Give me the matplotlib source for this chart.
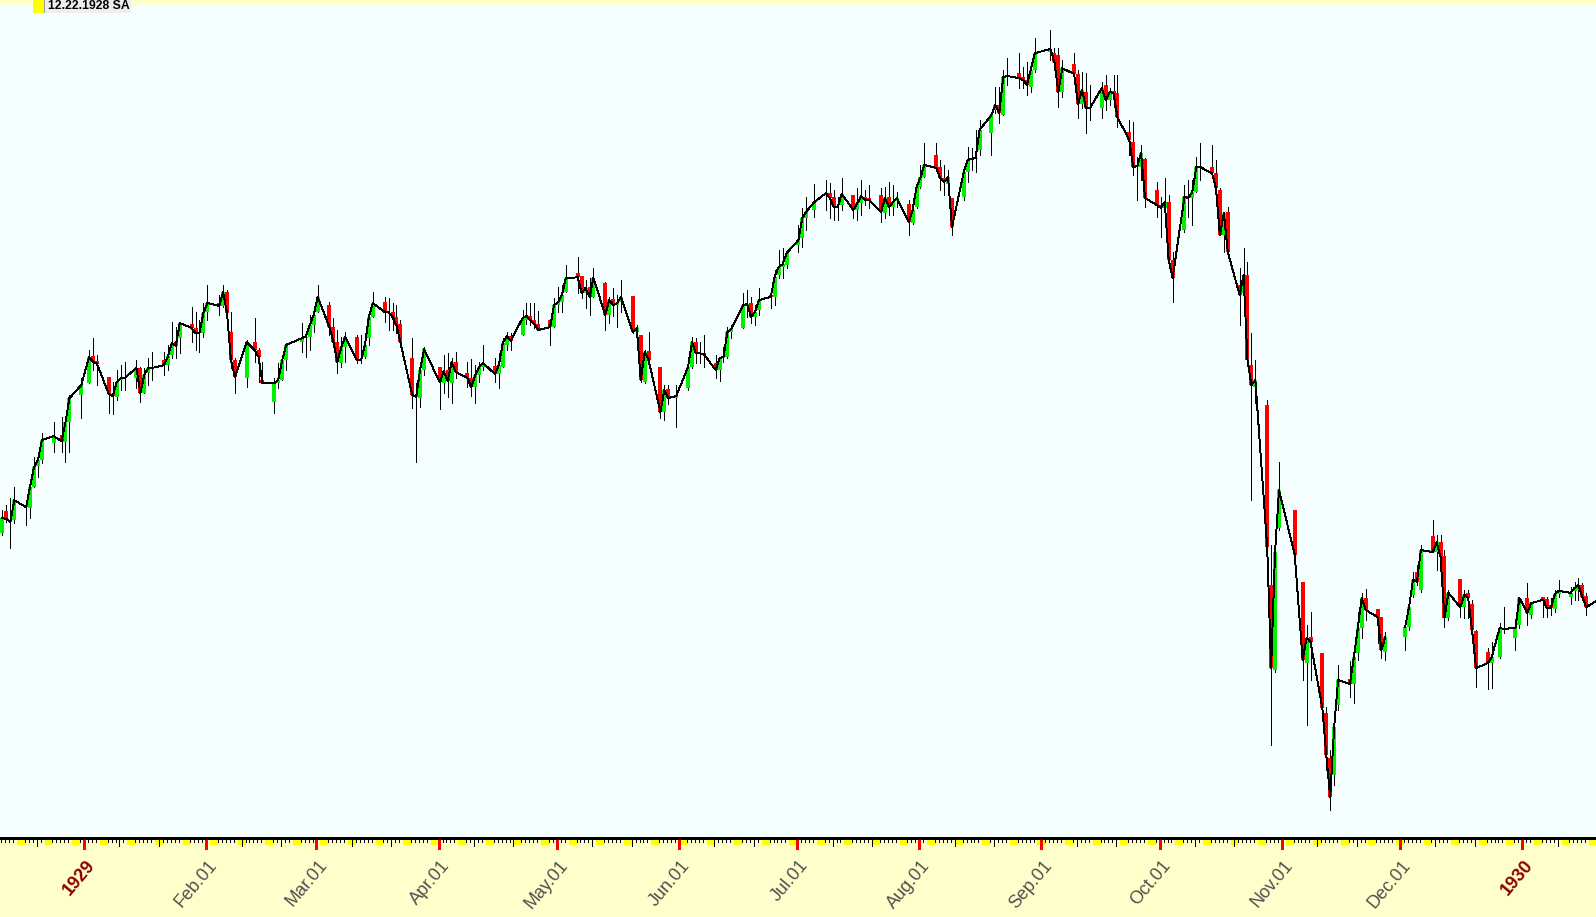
import matplotlib
matplotlib.use("Agg")
import matplotlib.pyplot as plt
import matplotlib.dates as mdates
from matplotlib.patches import Rectangle
import numpy as np
import pandas as pd

# ---------------- data (daily bars, Dow-like index, Dec 1928 - Jan 1930) ----------------
dates = (
    "1928-12-11 1928-12-12 1928-12-13 1928-12-14 1928-12-17 1928-12-18 1928-12-19 1928-12-20 1928-12-21 1928-12-24 1928-12-26 1928-12-27 1928-12-28 1928-12-31 "
    "1929-01-02 1929-01-03 1929-01-04 1929-01-07 1929-01-08 1929-01-09 1929-01-10 1929-01-11 1929-01-14 1929-01-15 1929-01-16 1929-01-17 1929-01-18 1929-01-21 1929-01-22 1929-01-23 1929-01-24 1929-01-25 1929-01-28 1929-01-29 1929-01-30 1929-01-31 "
    "1929-02-01 1929-02-04 1929-02-05 1929-02-06 1929-02-07 1929-02-08 1929-02-11 1929-02-13 1929-02-14 1929-02-15 1929-02-18 1929-02-19 1929-02-20 1929-02-21 1929-02-25 1929-02-26 1929-02-27 1929-02-28 "
    "1929-03-01 1929-03-04 1929-03-05 1929-03-06 1929-03-07 1929-03-08 1929-03-11 1929-03-12 1929-03-13 1929-03-14 1929-03-15 1929-03-18 1929-03-19 1929-03-20 1929-03-21 1929-03-22 1929-03-25 1929-03-26 1929-03-27 1929-03-28 "
    "1929-04-01 1929-04-02 1929-04-03 1929-04-04 1929-04-05 1929-04-08 1929-04-09 1929-04-10 1929-04-11 1929-04-12 1929-04-15 1929-04-16 1929-04-17 1929-04-18 1929-04-19 1929-04-22 1929-04-23 1929-04-24 1929-04-25 1929-04-26 1929-04-29 1929-04-30 "
    "1929-05-01 1929-05-02 1929-05-03 1929-05-06 1929-05-07 1929-05-08 1929-05-09 1929-05-10 1929-05-13 1929-05-14 1929-05-15 1929-05-16 1929-05-17 1929-05-20 1929-05-21 1929-05-22 1929-05-23 1929-05-24 1929-05-27 1929-05-28 1929-05-29 1929-05-31 "
    "1929-06-03 1929-06-04 1929-06-05 1929-06-06 1929-06-07 1929-06-10 1929-06-11 1929-06-12 1929-06-13 1929-06-14 1929-06-17 1929-06-18 1929-06-19 1929-06-20 1929-06-21 1929-06-24 1929-06-25 1929-06-26 1929-06-27 1929-06-28 "
    "1929-07-01 1929-07-02 1929-07-03 1929-07-05 1929-07-08 1929-07-09 1929-07-10 1929-07-11 1929-07-12 1929-07-15 1929-07-16 1929-07-17 1929-07-18 1929-07-19 1929-07-22 1929-07-23 1929-07-24 1929-07-25 1929-07-26 1929-07-29 1929-07-30 1929-07-31 "
    "1929-08-01 1929-08-02 1929-08-05 1929-08-06 1929-08-07 1929-08-08 1929-08-09 1929-08-12 1929-08-13 1929-08-14 1929-08-15 1929-08-16 1929-08-19 1929-08-20 1929-08-21 1929-08-22 1929-08-23 1929-08-26 1929-08-27 1929-08-28 1929-08-29 1929-08-30 "
    "1929-09-03 1929-09-04 1929-09-05 1929-09-06 1929-09-09 1929-09-10 1929-09-11 1929-09-12 1929-09-13 1929-09-16 1929-09-17 1929-09-18 1929-09-19 1929-09-20 1929-09-23 1929-09-24 1929-09-25 1929-09-26 1929-09-27 1929-09-30 "
    "1929-10-01 1929-10-02 1929-10-03 1929-10-04 1929-10-07 1929-10-08 1929-10-09 1929-10-10 1929-10-11 1929-10-14 1929-10-15 1929-10-16 1929-10-17 1929-10-18 1929-10-21 1929-10-22 1929-10-23 1929-10-24 1929-10-25 1929-10-28 1929-10-29 1929-10-30 1929-10-31 "
    "1929-11-04 1929-11-06 1929-11-07 1929-11-08 1929-11-11 1929-11-12 1929-11-13 1929-11-14 1929-11-15 1929-11-18 1929-11-19 1929-11-20 1929-11-21 1929-11-22 1929-11-25 1929-11-26 1929-11-27 "
    "1929-12-02 1929-12-03 1929-12-04 1929-12-05 1929-12-06 1929-12-09 1929-12-10 1929-12-11 1929-12-12 1929-12-13 1929-12-16 1929-12-17 1929-12-18 1929-12-19 1929-12-20 1929-12-23 1929-12-24 1929-12-26 1929-12-27 1929-12-30 1929-12-31 "
    "1930-01-02 1930-01-03 1930-01-06 1930-01-07 1930-01-08 1930-01-09 1930-01-10 1930-01-13 1930-01-14 1930-01-15 1930-01-16 1930-01-17 1930-01-20"
).split()

opens = [
    262.9, 268.2, 266.0, 266.0, 269.7, 269.0, 274.1, 279.3, 280.7, 284.9, 286.9, 285.2, 290.0, 296.7,
    299.6, 306.2, 305.0, 301.1, 296.9, 296.2, 300.3, 300.8, 300.8, 303.3, 297.1, 302.1, 303.3, 305.2, 304.0, 306.5, 309.6, 310.6, 314.0, 313.1, 311.8, 311.8,
    317.0, 319.2, 318.5, 321.9, 312.1, 305.2, 300.8, 309.6, 307.7, 300.3, 294.9, 299.6, 300.3, 305.2, 309.6, 310.6, 310.9, 313.8,
    317.0, 318.7, 313.3, 309.6, 304.5, 308.4, 310.9, 305.2, 306.0, 310.6, 315.8, 319.4, 317.0, 317.0, 315.8, 314.0, 305.7, 296.7, 295.9, 302.8,
    303.5, 299.6, 302.8, 299.6, 304.7, 302.1, 300.8, 298.6, 301.6, 303.5, 303.8, 301.8, 303.5, 308.9, 311.1, 311.4, 315.0, 316.0, 315.0, 314.0, 315.0, 313.3,
    318.7, 319.4, 321.9, 326.5, 325.8, 321.6, 323.1, 320.7, 324.1, 316.3, 320.2, 318.7, 319.4, 320.9, 312.1, 311.4, 299.8, 307.4, 303.5, 292.5, 298.1, 295.9,
    298.4, 303.5, 309.6, 306.9, 306.9, 304.5, 302.8, 305.7, 306.0, 312.1, 313.1, 318.7, 319.2, 315.8, 317.5, 321.2, 320.7, 326.0, 328.0, 328.5,
    333.4, 335.1, 340.0, 342.0, 345.6, 346.1, 345.2, 342.7, 343.2, 345.6, 342.0, 343.7, 345.2, 344.9, 345.6, 341.2, 345.2, 342.7, 344.2, 343.4, 338.8, 342.7,
    347.6, 350.0, 355.4, 352.5, 349.8, 348.3, 344.9, 345.2, 351.3, 354.2, 354.5, 356.7, 360.8, 366.5, 367.7, 365.2, 374.5, 375.5, 374.5, 373.8, 372.1, 376.3,
    380.7, 380.4, 379.9, 370.9, 377.7, 375.3, 367.9, 370.9, 366.9, 366.9, 372.6, 368.9, 371.1, 370.6, 361.1, 358.6, 352.5, 352.5, 354.5, 346.9,
    343.2, 342.5, 343.9, 329.7, 337.1, 345.4, 344.9, 346.4, 352.5, 352.5, 351.0, 346.9, 335.8, 341.5, 323.6, 321.6, 326.0, 304.0, 298.6, 294.2, 250.1, 229.3, 264.1,
    268.5, 250.9, 231.0, 237.4, 233.5, 218.8, 207.8, 203.6, 220.7, 227.1, 225.9, 233.5, 239.6, 247.0, 244.3, 242.3, 233.7,
    237.4, 239.8, 247.7, 253.3, 248.9, 262.1, 258.2, 260.6, 257.2, 242.1, 251.6, 244.7, 248.2, 245.5, 238.9, 233.7, 231.0, 232.5, 239.4, 237.2, 240.3,
    247.0, 242.8, 247.2, 246.7, 245.2, 244.3, 247.9, 247.2, 248.7, 248.9, 250.1, 247.4, 245.5,
]

highs = [
    268.5, 269.7, 271.4, 274.1, 270.9, 274.6, 281.5, 282.0, 287.4, 290.0, 291.3, 291.3, 296.7, 300.8,
    307.7, 310.6, 306.5, 301.1, 299.8, 302.8, 304.0, 304.7, 305.2, 303.5, 303.3, 305.7, 307.2, 307.2, 308.9, 314.5, 313.3, 314.5, 318.2, 317.0, 315.0, 319.2,
    323.6, 321.2, 323.6, 322.4, 317.0, 305.7, 310.1, 315.5, 308.2, 304.7, 300.8, 304.5, 306.0, 309.4, 314.3, 312.1, 316.3, 318.2,
    323.6, 319.4, 315.5, 312.6, 310.9, 312.1, 311.4, 311.4, 311.4, 315.8, 321.9, 320.7, 320.4, 319.2, 318.7, 315.0, 310.6, 299.6, 302.8, 308.4,
    303.5, 306.5, 307.0, 305.7, 307.2, 304.7, 305.5, 304.0, 304.7, 308.9, 305.7, 306.9, 310.6, 312.1, 311.8, 317.5, 319.2, 319.2, 319.2, 317.2, 315.0, 320.4,
    323.1, 323.6, 328.5, 330.5, 325.8, 324.8, 325.3, 327.8, 324.3, 320.7, 322.9, 321.2, 324.8, 320.9, 313.8, 311.4, 307.7, 312.1, 303.5, 299.1, 299.1, 299.1,
    303.5, 310.9, 310.6, 309.6, 311.4, 306.5, 306.0, 308.4, 313.3, 313.8, 321.6, 322.4, 320.7, 318.7, 322.9, 322.4, 327.3, 332.2, 332.7, 332.2,
    338.3, 342.5, 345.2, 348.3, 349.3, 348.6, 346.9, 345.2, 349.8, 345.6, 347.4, 349.3, 346.9, 348.1, 347.4, 347.6, 348.8, 348.1, 346.4, 344.4, 343.9, 348.1,
    353.0, 358.4, 358.4, 354.2, 353.0, 351.8, 344.9, 351.8, 357.4, 357.2, 361.6, 364.0, 365.7, 372.1, 372.1, 376.3, 379.2, 380.4, 377.0, 378.2, 377.5, 384.1,
    386.0, 381.6, 381.6, 378.7, 380.4, 376.3, 375.8, 375.5, 372.6, 373.3, 375.0, 371.8, 375.0, 375.0, 364.0, 363.5, 354.9, 357.9, 354.7, 348.8,
    345.2, 349.8, 345.6, 331.7, 348.1, 349.3, 349.3, 354.9, 358.4, 357.9, 354.2, 347.4, 341.5, 342.7, 327.8, 332.7, 329.2, 311.8, 305.2, 295.4, 259.9, 259.9, 280.3,
    268.5, 250.9, 240.3, 243.5, 233.5, 220.3, 209.7, 218.3, 230.5, 231.5, 233.0, 243.5, 248.2, 249.1, 244.3, 242.3, 238.6,
    239.8, 246.9, 253.3, 255.0, 259.9, 266.0, 262.4, 262.4, 258.7, 248.9, 251.6, 248.9, 248.9, 246.5, 239.1, 234.7, 236.2, 240.8, 244.7, 239.6, 247.2,
    250.6, 245.9, 247.2, 247.2, 246.9, 248.9, 251.4, 249.6, 250.9, 251.8, 250.6, 248.2, 247.7,
]

lows = [
    262.4, 265.5, 259.2, 265.3, 264.8, 266.5, 274.1, 276.6, 280.0, 282.7, 282.7, 280.3, 282.7, 291.0,
    299.6, 302.8, 299.1, 292.3, 292.0, 295.4, 297.9, 297.9, 298.4, 294.9, 297.1, 299.1, 300.3, 301.6, 302.8, 305.7, 305.7, 306.9, 309.6, 307.7, 307.2, 310.9,
    315.0, 316.3, 318.2, 315.0, 303.3, 297.1, 298.6, 304.7, 299.8, 299.6, 292.3, 298.4, 300.3, 302.8, 307.2, 306.0, 307.7, 312.1,
    317.0, 311.4, 309.6, 302.1, 303.5, 304.7, 304.5, 304.5, 305.7, 308.9, 315.8, 314.5, 312.6, 312.6, 311.8, 308.9, 293.5, 280.3, 293.7, 301.6,
    293.2, 297.1, 296.2, 294.7, 300.8, 298.6, 296.4, 294.7, 299.8, 302.8, 299.8, 298.4, 303.5, 307.7, 307.7, 311.4, 314.0, 313.8, 313.1, 312.6, 308.9, 313.3,
    317.0, 317.0, 321.9, 321.6, 320.4, 318.0, 316.3, 320.7, 312.6, 314.3, 316.0, 313.3, 317.0, 311.8, 308.4, 299.8, 299.6, 303.5, 291.0, 290.5, 294.5, 288.8,
    297.9, 303.3, 304.5, 304.5, 303.5, 300.8, 300.1, 304.7, 305.7, 310.6, 313.1, 315.8, 314.3, 313.8, 316.3, 318.0, 318.7, 325.3, 325.3, 327.8,
    331.7, 332.9, 337.1, 340.3, 342.0, 340.0, 339.5, 339.5, 342.0, 340.0, 339.5, 340.7, 343.2, 342.5, 339.0, 340.0, 340.7, 340.7, 342.7, 335.8, 338.5, 342.5,
    347.4, 350.0, 351.8, 346.9, 345.6, 346.4, 335.8, 344.4, 348.8, 351.8, 351.3, 355.4, 355.4, 365.7, 363.3, 365.2, 372.6, 371.8, 371.8, 370.1, 370.9, 375.8,
    378.7, 376.3, 367.2, 369.6, 373.3, 364.5, 366.9, 360.8, 364.0, 364.5, 366.5, 367.7, 367.2, 362.3, 355.4, 350.5, 344.4, 349.3, 342.7, 340.3,
    335.4, 338.8, 327.8, 319.4, 336.6, 340.3, 338.3, 346.4, 349.3, 350.1, 345.6, 335.8, 331.7, 331.4, 313.8, 321.6, 304.7, 270.9, 294.7, 258.7, 210.9, 228.8, 263.6,
    256.3, 226.9, 215.8, 226.9, 218.3, 204.8, 195.0, 201.1, 219.5, 222.7, 221.2, 231.8, 237.2, 241.6, 235.9, 232.3, 231.8,
    234.2, 239.1, 247.2, 250.1, 248.4, 258.2, 253.8, 253.8, 239.8, 241.6, 242.3, 242.1, 242.1, 239.1, 225.1, 224.7, 224.9, 232.3, 238.4, 234.2, 239.6,
    240.3, 242.1, 242.3, 242.3, 242.8, 243.5, 247.2, 245.5, 246.5, 246.5, 246.5, 242.8, 244.5,
]

closes = [
    266.5, 266.3, 265.6, 270.9, 269.2, 274.1, 279.0, 280.7, 285.6, 286.6, 285.4, 290.0, 295.9, 299.1,
    306.0, 304.8, 304.3, 296.9, 296.4, 299.8, 300.8, 300.8, 303.3, 297.1, 301.6, 303.3, 303.3, 304.0, 306.2, 309.4, 308.7, 314.3, 313.1, 311.8, 311.8, 316.7,
    319.2, 318.5, 321.9, 316.7, 305.2, 301.1, 309.6, 307.7, 306.0, 299.6, 299.6, 300.3, 305.2, 308.9, 310.6, 310.9, 313.8, 316.3,
    320.7, 313.3, 309.6, 304.7, 308.4, 310.9, 305.2, 305.2, 308.9, 315.8, 319.2, 317.0, 317.0, 315.8, 313.8, 309.6, 296.7, 296.2, 302.8, 307.9,
    299.8, 302.5, 300.1, 304.7, 302.3, 300.8, 298.6, 301.6, 303.5, 304.5, 301.8, 304.0, 309.4, 311.1, 309.9, 315.5, 316.0, 315.0, 314.0, 312.6, 313.3, 318.7,
    319.4, 321.2, 325.3, 325.5, 321.6, 322.9, 320.7, 325.3, 316.3, 319.9, 318.7, 319.2, 320.7, 312.1, 313.1, 300.3, 307.2, 305.2, 292.5, 297.9, 295.9, 296.4,
    303.5, 309.6, 306.9, 306.9, 306.7, 302.8, 305.7, 306.0, 312.1, 312.8, 318.7, 318.9, 315.8, 317.0, 319.9, 320.7, 325.6, 328.0, 328.7, 331.4,
    334.6, 340.0, 341.5, 343.9, 346.1, 344.9, 342.7, 342.7, 345.9, 342.0, 343.7, 345.4, 344.4, 344.4, 341.5, 344.9, 342.7, 343.9, 344.9, 339.0, 342.0, 347.6,
    350.0, 353.0, 352.3, 349.8, 348.8, 350.0, 337.8, 351.3, 354.2, 354.5, 354.7, 361.6, 365.2, 367.7, 365.7, 374.5, 374.8, 374.3, 373.8, 372.6, 376.3, 380.4,
    381.4, 378.2, 370.9, 376.7, 375.3, 367.9, 371.4, 366.9, 366.9, 371.8, 368.9, 370.9, 370.6, 364.7, 359.1, 352.5, 352.7, 355.9, 344.9, 343.2,
    342.5, 343.9, 329.7, 325.3, 345.2, 344.9, 346.4, 352.5, 352.5, 351.0, 347.4, 335.8, 341.2, 331.7, 321.2, 326.0, 305.2, 299.1, 300.3, 259.4, 229.8, 258.2, 273.4,
    257.5, 231.8, 237.2, 236.2, 220.0, 208.5, 198.2, 215.4, 226.9, 225.9, 232.5, 239.6, 247.0, 244.0, 242.3, 234.2, 237.4,
    239.8, 244.7, 251.4, 250.9, 258.7, 258.2, 260.6, 257.0, 242.1, 248.2, 244.7, 247.7, 247.0, 239.1, 229.8, 231.0, 232.5, 239.6, 239.4, 239.6, 247.0,
    243.3, 245.7, 246.5, 244.5, 244.5, 247.9, 248.7, 248.2, 249.4, 250.1, 247.2, 244.7, 246.5,
]

month_labels = ["1929", "Feb.01", "Mar.01", "Apr.01", "May.01", "Jun.01", "Jul.01",
                "Aug.01", "Sep.01", "Oct.01", "Nov.01", "Dec.01", "1930"]
header_text = "12.22.1928 SA"

# ---------------- layout (pixels) ----------------
W, H = 1596, 917
AXIS_Y = 837      # y of time axis line (from top)
TOP = 5           # top yellow strip
PX_PER_DAY = 3.94
X_JAN1 = 84.0

FONT = "Liberation Sans"
UP_COL = "#00F000"
DN_COL = "#FF0000"
THIN = 0.68

n = min(len(dates), len(opens), len(highs), len(lows), len(closes))
d = pd.to_datetime(dates[:n])
O = np.array(opens[:n]); Hh = np.array(highs[:n]); L = np.array(lows[:n]); C = np.array(closes[:n])
xd = mdates.date2num(d) + 0.3

J = mdates.date2num(pd.Timestamp("1929-01-01"))
xlim = (J - X_JAN1 / PX_PER_DAY, J + (W - X_JAN1) / PX_PER_DAY)
ylim = (188.42, 392.19)

fig = plt.figure(figsize=(W / 100, H / 100), dpi=100)
fig.patch.set_facecolor("#FFFFCC")

ax = fig.add_axes([0, (H - AXIS_Y) / H, 1, (AXIS_Y - TOP) / H])
ax.set_facecolor("#F5FFFF")
for s in ax.spines.values():
    s.set_visible(False)
ax.set_xticks([]); ax.set_yticks([])
ax.set_xlim(xlim); ax.set_ylim(ylim)

# wicks
ax.vlines(xd, L, Hh, colors="black", linewidth=THIN, antialiased=False, zorder=2)
# bodies
up = C > O
dn = C < O
ax.vlines(xd[up], O[up], C[up], colors=UP_COL, linewidth=1.45, antialiased=False, zorder=3)
ax.vlines(xd[dn], C[dn], O[dn], colors=DN_COL, linewidth=1.45, antialiased=False, zorder=3)
# close line, broken across long closures
lx, ly = [], []
for i in range(n):
    if i > 0 and xd[i] - xd[i - 1] > 4.5:
        lx.append(np.nan); ly.append(np.nan)
    lx.append(xd[i]); ly.append(C[i])
ax.plot(lx, ly, color="black", linewidth=THIN, antialiased=False, zorder=4)

# ---------------- time axis panel ----------------
bx = fig.add_axes([0, 0, 1, (H - AXIS_Y) / H])
bx.set_facecolor("#FFFFCC")
for s in bx.spines.values():
    s.set_visible(False)
bx.set_xticks([]); bx.set_yticks([])
bx.set_xlim(xlim); bx.set_ylim(H - AXIS_Y, 0)

days = np.arange(np.floor(xlim[0]), np.ceil(xlim[1]) + 1)
bx.vlines(days, 0, 5, colors="black", linewidth=THIN, antialiased=False, zorder=2)
for dd in days:
    ts = mdates.num2date(dd)
    if ts.weekday() == 5:
        bx.add_patch(Rectangle((dd, 0), 2, 8, facecolor="#FFFF00", edgecolor="none", zorder=3))
big = [dd for dd in days if mdates.num2date(dd).day in (10, 20)]
bx.vlines(big, 0, 9, colors="black", linewidth=THIN, antialiased=False, zorder=4)
months = pd.date_range("1929-01-01", "1930-01-01", freq="MS")
mx = mdates.date2num(months)
bx.vlines(mx, 0, 12, colors="#FF0000", linewidth=0.9, antialiased=False, zorder=5)
bx.hlines(0.5, xlim[0], xlim[1], colors="black", linewidth=1.0, antialiased=False, zorder=6)

for xm, lab in zip(mx, month_labels):
    is_year = not ("." in lab)
    bx.text(xm + 1.5 / PX_PER_DAY, 20, lab, rotation=50, rotation_mode="anchor",
            ha="right", va="top", fontsize=13, family=FONT,
            color="#8B0000" if is_year else "#505050",
            fontweight="bold" if is_year else "normal", zorder=7)

# ---------------- header tag ----------------
def fx(px):
    return px / W

def fy(py):
    return (H - py) / H

fig.add_artist(Rectangle((fx(33), fy(12.7)), fx(44) - fx(33), 12.7 / H,
                         transform=fig.transFigure, facecolor="#FFFF00", edgecolor="none", zorder=10))
fig.add_artist(Rectangle((fx(44), fy(13)), fx(131) - fx(44), 13 / H,
                         transform=fig.transFigure, facecolor="#EEEEEE", edgecolor="none", zorder=10))
fig.add_artist(Rectangle((fx(44), fy(13)), 1.2 / W, 13 / H,
                         transform=fig.transFigure, facecolor="#9A9A9A", edgecolor="none", zorder=11))
fig.text(fx(48), fy(6.2), header_text, ha="left", va="center", fontsize=8.8,
         fontweight="bold", family=FONT, color="black", zorder=12)

fig.savefig("out.png", dpi=100, facecolor=fig.get_facecolor())
